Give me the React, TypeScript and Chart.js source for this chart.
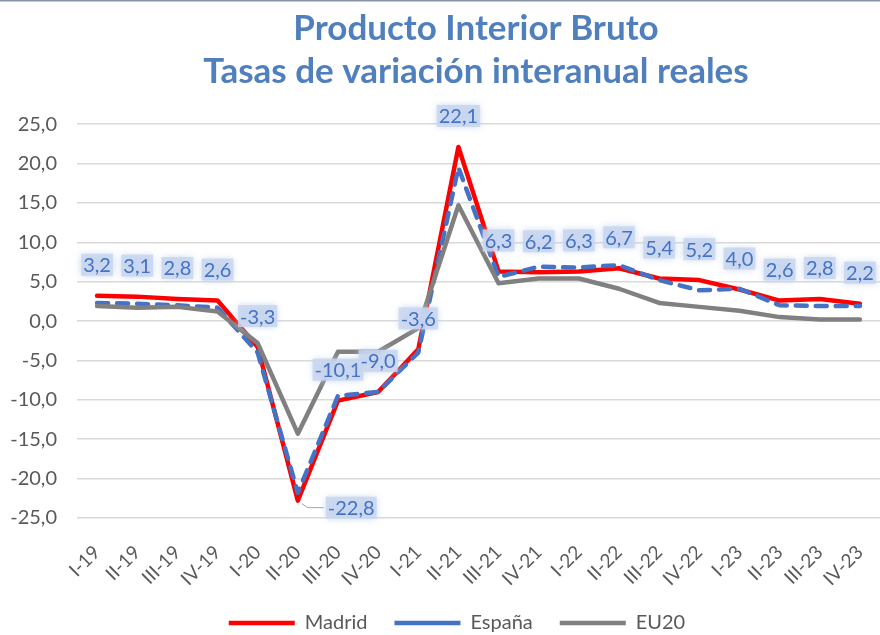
import React, { useEffect, useRef } from "react";
import { Chart, registerables } from "chart.js";

Chart.register(...registerables);

const categories = [
  "I-19", "II-19", "III-19", "IV-19",
  "I-20", "II-20", "III-20", "IV-20",
  "I-21", "II-21", "III-21", "IV-21",
  "I-22", "II-22", "III-22", "IV-22",
  "I-23", "II-23", "III-23", "IV-23",
];
const madrid = [3.2, 3.1, 2.8, 2.6, -3.3, -22.8, -10.1, -9.0, -3.6, 22.1, 6.3, 6.2, 6.3, 6.7, 5.4, 5.2, 4.0, 2.6, 2.8, 2.2];
const espana = [2.3, 2.2, 2.0, 1.7, -4.0, -21.8, -9.5, -9.0, -4.0, 19.5, 5.6, 6.9, 6.8, 7.1, 5.2, 3.9, 4.1, 2.0, 1.9, 1.9];
const eu20 = [1.9, 1.7, 1.8, 1.2, -2.8, -14.3, -3.9, -3.9, -0.9, 14.7, 4.8, 5.4, 5.4, 4.1, 2.3, 1.8, 1.3, 0.5, 0.2, 0.2];
const yTicks = [-25, -20, -15, -10, -5, 0, 5, 10, 15, 20, 25];
const seriesNames = ["Madrid", "España", "EU20"];
const titleLines = ["Producto Interior Bruto", "Tasas de variación interanual reales"];

const FONT = "Lato, 'Open Sans', sans-serif";
const fmt = (v: number) => v.toFixed(1).replace(".", ",");

const topBorderPlugin = {
  id: "topBorder",
  beforeDraw(chart: any) {
    const ctx = chart.ctx;
    ctx.save();
    ctx.fillStyle = "#ffffff";
    ctx.fillRect(0, 0, chart.width, chart.height);
    ctx.strokeStyle = "#8494A6";
    ctx.lineWidth = 1.5;
    ctx.beginPath();
    ctx.moveTo(0, 0.75);
    ctx.lineTo(chart.width, 0.75);
    ctx.stroke();
    ctx.restore();
  },
};

// The original chart was wider than the visible crop: title and legend are
// centred on the full (uncropped) chart width.
const shiftPlugin = {
  id: "shiftBlocks",
  afterLayout(chart: any) {
    const t = chart.titleBlock;
    if (t) t.left += 72;
    const l = chart.legend;
    if (l) {
      l.left += 17;
      l.right += 17;
    }
  },
};

const labelPlugin = {
  id: "madridLabels",
  afterDatasetsDraw(chart: any) {
    const meta = chart.getDatasetMeta(0);
    const values: number[] = chart.data.datasets[0].data;
    const minIdx = values.indexOf(Math.min(...values));
    const ctx = chart.ctx;
    ctx.save();
    ctx.font = `20px ${FONT}`;
    ctx.textAlign = "center";
    ctx.textBaseline = "middle";
    meta.data.forEach((pt: any, i: number) => {
      const text = fmt(values[i]);
      let x = pt.x;
      let y = pt.y - 31;
      const w = ctx.measureText(text).width;
      if (i === minIdx) {
        x = pt.x + 30 + w / 2;
        y = pt.y + 7;
        ctx.save();
        ctx.strokeStyle = "#A6A6A6";
        ctx.lineWidth = 1;
        ctx.beginPath();
        ctx.moveTo(pt.x + 4, pt.y + 3);
        ctx.lineTo(pt.x + 10, pt.y + 7);
        ctx.lineTo(pt.x + 26, pt.y + 7);
        ctx.stroke();
        ctx.restore();
      }
      ctx.save();
      ctx.fillStyle = "rgba(200,214,238,0.85)";
      ctx.shadowColor = "rgba(190,207,236,1)";
      ctx.shadowBlur = 7;
      ctx.fillRect(x - w / 2 - 2, y - 11, w + 4, 22);
      ctx.restore();
      ctx.fillStyle = "#4472C4";
      ctx.fillText(text, x, y + 1);
    });
    ctx.restore();
  },
};

export default function App() {
  const ref = useRef<HTMLCanvasElement | null>(null);

  useEffect(() => {
    if (!ref.current) return;
    document.body.style.margin = "0";
    const chart = new Chart(ref.current, {
      type: "line",
      data: {
        labels: categories,
        datasets: [
          {
            label: seriesNames[0],
            data: madrid,
            borderColor: "#FF0000",
            backgroundColor: "#FF0000",
            borderWidth: 4.5,
            pointRadius: 0,
            pointHoverRadius: 0,
            borderJoinStyle: "round",
            borderCapStyle: "round",
            pointStyle: "line",
            tension: 0,
            order: 3,
          },
          {
            label: seriesNames[1],
            data: espana,
            borderColor: "#4472C4",
            backgroundColor: "#4472C4",
            borderWidth: 4.5,
            borderDash: [11, 9],
            pointRadius: 0,
            pointHoverRadius: 0,
            borderJoinStyle: "round",
            borderCapStyle: "round",
            pointStyle: "line",
            tension: 0,
            order: 2,
          },
          {
            label: seriesNames[2],
            data: eu20,
            borderColor: "#808080",
            backgroundColor: "#808080",
            borderWidth: 4.5,
            pointRadius: 0,
            pointHoverRadius: 0,
            borderJoinStyle: "round",
            borderCapStyle: "round",
            pointStyle: "line",
            tension: 0,
            order: 1,
          },
        ],
      },
      options: {
        responsive: false,
        animation: false,
        devicePixelRatio: 1,
        layout: { padding: { left: 0, right: 0, top: 0, bottom: -8 } },
        scales: {
          x: {
            offset: true,
            grid: { display: false, drawTicks: false },
            border: { display: false },
            ticks: {
              color: "#595959",
              font: { family: FONT, size: 19 },
              minRotation: 45,
              maxRotation: 45,
              autoSkip: false,
              padding: 23,
            },
            afterFit: (s: any) => {
              s.height = 68;
              s.paddingLeft = 0;
              s.paddingRight = 0;
            },
          },
          y: {
            min: -25,
            max: 25,
            grid: { color: "#D9D9D9", lineWidth: 1.5, drawTicks: false },
            border: { display: false },
            afterBuildTicks: (s: any) => {
              s.ticks = yTicks.map((v) => ({ value: v }));
            },
            ticks: {
              color: "#595959",
              font: { family: FONT, size: 20 },
              padding: 20,
              callback: (v: any) => fmt(Number(v)),
            },
            afterFit: (s: any) => {
              s.width = 77;
            },
          },
        },
        plugins: {
          title: {
            display: true,
            text: titleLines,
            color: "#4F7FBC",
            font: { family: FONT, size: 35, weight: "bold", lineHeight: 1.23 },
            padding: { top: 7, bottom: 31 },
          },
          legend: {
            position: "bottom",
            labels: {
              usePointStyle: true,
              pointStyle: "line",
              pointStyleWidth: 66,
              boxHeight: 20,
              padding: 27,
              color: "#595959",
              font: { family: FONT, size: 20 },
              sort: (a: any, b: any) => a.datasetIndex - b.datasetIndex,
            },
          },
          tooltip: { enabled: false },
        },
      },
      plugins: [topBorderPlugin, shiftPlugin, labelPlugin],
    });
    return () => chart.destroy();
  }, []);

  return (
    <div style={{ position: "absolute", left: 0, top: 0, width: 880, height: 635 }}>
      <canvas ref={ref} width={880} height={635} style={{ width: 880, height: 635, display: "block" }} />
    </div>
  );
}
